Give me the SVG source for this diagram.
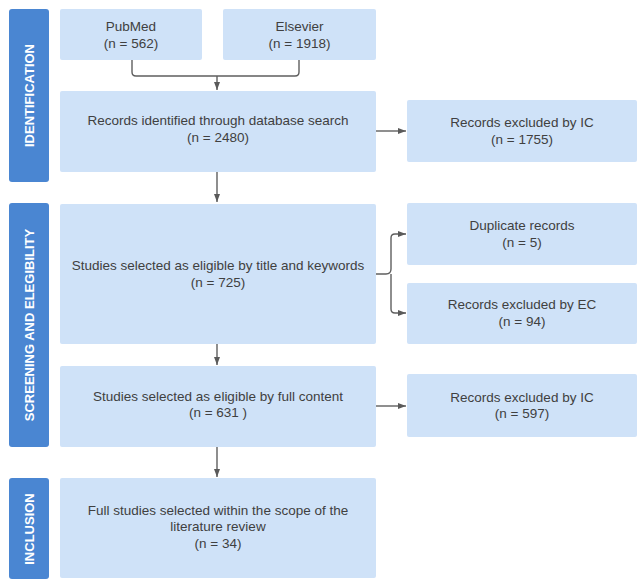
<svg xmlns="http://www.w3.org/2000/svg" width="637" height="579" viewBox="0 0 637 579">
<defs>
<marker id="ah" viewBox="0 0 8 8" markerWidth="8" markerHeight="8" refX="8" refY="4" orient="auto" markerUnits="userSpaceOnUse">
<path d="M0,1 L8,4 L0,7 z" fill="#5a5a5a"/>
</marker>
</defs>
<style>
.bg{fill:#ffffff}
.box{fill:#cfe2f8}
.side{fill:#4a86d2}
.t{font-family:"Liberation Sans",Arial,sans-serif;font-size:13.5px;fill:#404040;text-anchor:middle}
.s{font-family:"Liberation Sans",Arial,sans-serif;font-size:13px;font-weight:bold;fill:#ffffff;text-anchor:middle}
.c{fill:none;stroke:#5f5f5f;stroke-width:1.4}
</style>
<rect class="bg" x="0" y="0" width="637" height="579"/>
<g id="side-identification"><rect class="side" x="9" y="9" width="40" height="173" rx="3"/><text class="s" transform="translate(33.5,95.5) rotate(-90)">IDENTIFICATION</text></g>
<g id="side-screening"><rect class="side" x="9" y="203" width="40" height="244" rx="3"/><text class="s" transform="translate(33.5,325) rotate(-90)">SCREENING AND ELEGIBILITY</text></g>
<g id="side-inclusion"><rect class="side" x="9" y="478" width="40" height="101" rx="3"/><text class="s" transform="translate(33.5,529) rotate(-90)">INCLUSION</text></g>
<g id="pubmed"><rect class="box" x="60" y="9" width="142" height="51" rx="2"/><text class="t" x="131" y="31">PubMed</text><text class="t" x="131" y="48">(n = 562)</text></g>
<g id="elsevier"><rect class="box" x="223" y="9" width="153" height="51" rx="2"/><text class="t" x="299.5" y="31">Elsevier</text><text class="t" x="299.5" y="48">(n = 1918)</text></g>
<g id="records-identified"><rect class="box" x="60" y="91" width="316" height="81" rx="2"/><text class="t" x="218" y="125">Records identified through database search</text><text class="t" x="218" y="142">(n = 2480)</text></g>
<g id="excluded-ic-1"><rect class="box" x="407" y="100" width="230" height="62" rx="2"/><text class="t" x="522" y="127">Records excluded by IC</text><text class="t" x="522" y="144">(n = 1755)</text></g>
<g id="title-keywords"><rect class="box" x="60" y="204" width="316" height="140" rx="2"/><text class="t" x="218" y="270">Studies selected as eligible by title and keywords</text><text class="t" x="218" y="287">(n = 725)</text></g>
<g id="duplicates"><rect class="box" x="407" y="203" width="230" height="62" rx="2"/><text class="t" x="522" y="230">Duplicate records</text><text class="t" x="522" y="247">(n = 5)</text></g>
<g id="excluded-ec"><rect class="box" x="407" y="283" width="230" height="61" rx="2"/><text class="t" x="522" y="309">Records excluded by EC</text><text class="t" x="522" y="326">(n = 94)</text></g>
<g id="full-content"><rect class="box" x="60" y="366" width="316" height="81" rx="2"/><text class="t" x="218" y="401">Studies selected as eligible by full content</text><text class="t" x="218" y="417">(n = 631 )</text></g>
<g id="excluded-ic-2"><rect class="box" x="407" y="374" width="230" height="63" rx="2"/><text class="t" x="522" y="402">Records excluded by IC</text><text class="t" x="522" y="418">(n = 597)</text></g>
<g id="included"><rect class="box" x="60" y="478" width="316" height="100" rx="2"/><text class="t" x="218" y="515">Full studies selected within the scope of the</text><text class="t" x="218" y="531">literature review</text><text class="t" x="218" y="548">(n = 34)</text></g>
<g id="connectors">
<path class="c" d="M132,60 V72 Q132,76 136,76 H295 Q299,76 299,72 V60"/>
<path class="c" d="M217,76 V90" marker-end="url(#ah)"/>
<path class="c" d="M217,172 V202" marker-end="url(#ah)"/>
<path class="c" d="M376,131 H406" marker-end="url(#ah)"/>
<path class="c" d="M376,274 H386 Q391,274 391,269 V238 Q391,234 395,234 H406" marker-end="url(#ah)"/>
<path class="c" d="M391,274 V309 Q391,313 395,313 H406" marker-end="url(#ah)"/>
<path class="c" d="M217,344 V365" marker-end="url(#ah)"/>
<path class="c" d="M376,406 H406" marker-end="url(#ah)"/>
<path class="c" d="M217,447 V477" marker-end="url(#ah)"/>
</g>
</svg>
